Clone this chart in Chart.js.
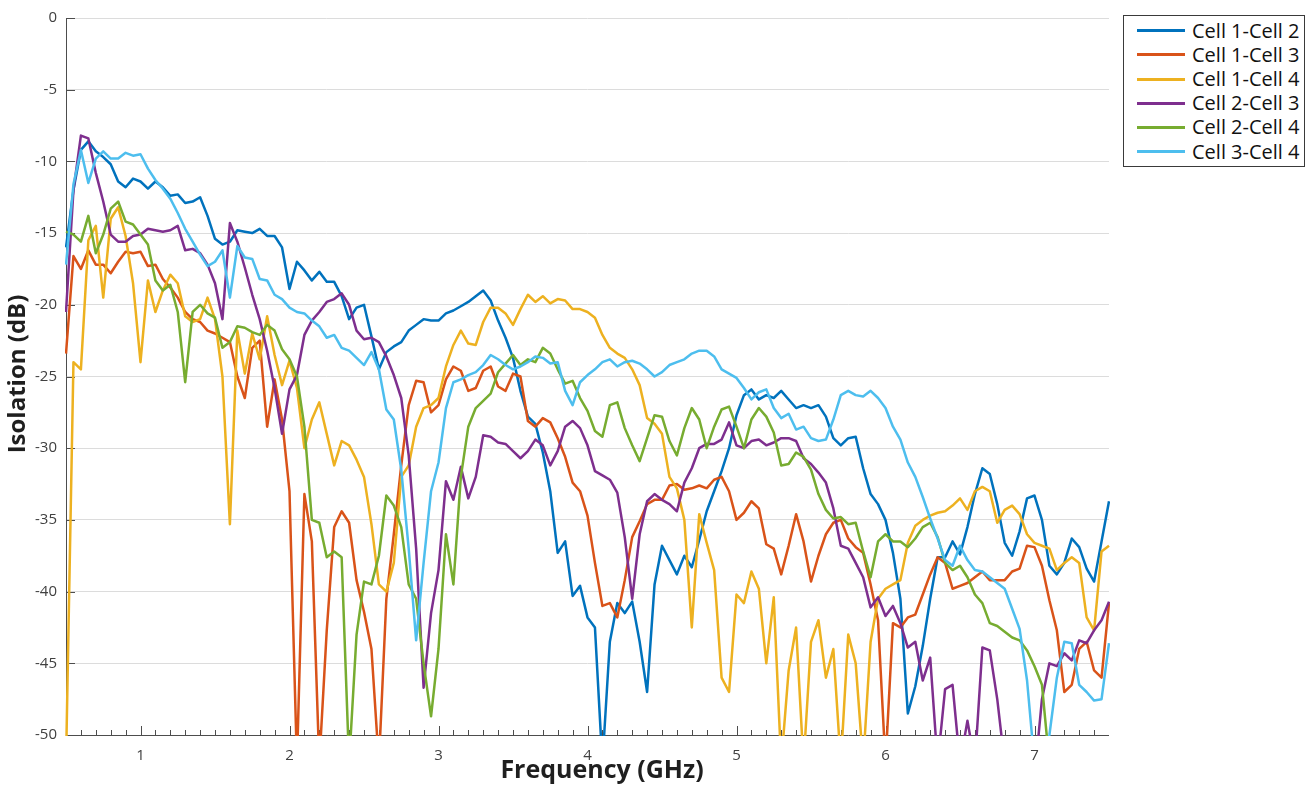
<!DOCTYPE html>
<html>
<head>
<meta charset="utf-8">
<script src="https://cdn.jsdelivr.net/npm/chart.js@4.4.0/dist/chart.umd.min.js"></script>
<style>
html,body{margin:0;padding:0;background:#fff;}
#wrap{position:relative;width:1310px;height:791px;overflow:hidden;}
#c{position:absolute;left:0;top:0;width:1310px;height:791px;}
#legend{position:absolute;left:1123px;top:15px;width:182px;height:152px;box-sizing:border-box;border:1px solid #3a3a3a;background:#fff;padding-top:2.6px;font-family:"Open Sans","Noto Sans",sans-serif;}
.row{display:flex;align-items:center;height:24.2px;}
.swatch{display:inline-block;width:48px;height:3px;margin-left:13px;margin-right:7px;}
.lab{font-size:20px;color:#111;white-space:nowrap;line-height:24px;}
</style>
</head>
<body>
<div id="wrap">
<canvas id="c" width="1310" height="791"></canvas>
<div id="legend"></div>
</div>
<script>
// ---------- data ----------
const freqGHz = [
0.5,0.55,0.6,0.65,0.7,0.75,0.8,0.85,0.9,0.95,
1,1.05,1.1,1.15,1.2,1.25,1.3,1.35,1.4,1.45,
1.5,1.55,1.6,1.65,1.7,1.75,1.8,1.85,1.9,1.95,
2,2.05,2.1,2.15,2.2,2.25,2.3,2.35,2.4,2.45,
2.5,2.55,2.6,2.65,2.7,2.75,2.8,2.85,2.9,2.95,
3,3.05,3.1,3.15,3.2,3.25,3.3,3.35,3.4,3.45,
3.5,3.55,3.6,3.65,3.7,3.75,3.8,3.85,3.9,3.95,
4,4.05,4.1,4.15,4.2,4.25,4.3,4.35,4.4,4.45,
4.5,4.55,4.6,4.65,4.7,4.75,4.8,4.85,4.9,4.95,
5,5.05,5.1,5.15,5.2,5.25,5.3,5.35,5.4,5.45,
5.5,5.55,5.6,5.65,5.7,5.75,5.8,5.85,5.9,5.95,
6,6.05,6.1,6.15,6.2,6.25,6.3,6.35,6.4,6.45,
6.5,6.55,6.6,6.65,6.7,6.75,6.8,6.85,6.9,6.95,
7,7.05,7.1,7.15,7.2,7.25,7.3,7.35,7.4,7.45,
7.5];

const cell1_cell2 = [
-16,-12,-9.2,-8.6,-9.3,-9.7,-10.2,-11.4,-11.8,-11.2,
-11.4,-11.9,-11.4,-11.8,-12.4,-12.3,-12.9,-12.8,-12.5,-13.8,
-15.4,-15.8,-15.6,-14.8,-14.9,-15,-14.7,-15.2,-15.2,-16,
-18.9,-17,-17.6,-18.3,-17.7,-18.4,-18.4,-19.4,-21,-20.2,
-20,-22.2,-24.5,-23.3,-22.9,-22.6,-21.8,-21.4,-21,-21.1,
-21.1,-20.6,-20.4,-20.1,-19.8,-19.4,-19,-19.7,-21.1,-22.3,
-23.7,-26,-27.8,-28.3,-30.3,-33,-37.3,-36.5,-40.3,-39.6,
-41.8,-42.5,-52,-43.5,-40.8,-41.5,-40.7,-43.5,-47,-39.5,
-36.8,-37.8,-38.8,-37.5,-38.3,-36.4,-34.4,-33,-31.6,-30,
-27.7,-26.3,-25.9,-26.6,-26.3,-26.5,-26,-26.6,-27.2,-27,
-27.2,-27,-27.8,-29.3,-29.8,-29.3,-29.2,-31.4,-33.2,-33.9,
-35,-37.3,-40.5,-48.5,-46.6,-43.8,-40.5,-37.6,-37.6,-36.5,
-37.4,-35.5,-33.2,-31.4,-31.8,-33.9,-36.6,-37.5,-35.8,-33.5,
-33.3,-35,-38.2,-38.8,-38,-36.3,-36.9,-38.4,-39.3,-36.5,-33.7];

const cell1_cell3 = [
-23.4,-16.6,-17.5,-16.2,-17.2,-17.2,-17.8,-17,-16.3,-16.4,
-16.3,-17.3,-17.2,-18.2,-18.8,-19.5,-20.5,-21,-21.2,-21.8,
-22,-22.3,-22.6,-25,-26.5,-23,-22.5,-28.5,-25.2,-28,
-33,-52,-33.2,-36.5,-52,-42.7,-35.5,-34.4,-35.2,-39.2,
-41.4,-44,-52,-40.5,-36,-31.2,-27,-25.3,-25.4,-27.5,
-27,-25.2,-24.3,-24.6,-26,-25.8,-24.6,-24.3,-25.7,-26,
-24.8,-25,-28.1,-28.5,-27.9,-28.2,-29.3,-30.6,-32.4,-33,
-34.7,-38,-41,-40.8,-41.8,-39.2,-36.2,-35.1,-33.9,-33.6,
-33.6,-32.6,-32.5,-32.9,-32.8,-32.6,-32.8,-32.2,-32,-33,
-35,-34.5,-33.7,-34.2,-36.7,-37,-38.8,-36.8,-34.6,-36.5,
-39.3,-37.5,-36,-35.2,-35,-36.3,-36.9,-37.3,-39.5,-42,
-52,-42.2,-42.5,-41.8,-41.6,-40.2,-38.8,-37.6,-38,-39.8,
-39.6,-39.4,-39,-38.6,-39.2,-39.2,-39.2,-38.6,-38.4,-36.8,
-36.9,-38.2,-40.6,-42.7,-47,-46.5,-44,-43.5,-45.5,-46,-40.8];

const cell1_cell4 = [
-52,-24,-24.5,-15.5,-14.5,-19.5,-14,-13.2,-15.2,-18.5,
-24,-18.3,-20.5,-19,-17.9,-18.5,-20.8,-21.2,-21,-19.5,
-21,-25,-35.3,-21.8,-24.8,-22,-23.8,-20.8,-23.5,-25.6,
-23.9,-25.8,-30,-28,-26.8,-29,-31.2,-29.5,-29.8,-30.8,
-32,-35.3,-39.5,-40,-38,-32,-31.2,-28.5,-27.2,-27,
-26.5,-24.3,-22.8,-21.8,-22.7,-22.8,-21.2,-20.2,-20.2,-20.6,
-21.4,-20.3,-19.3,-19.8,-19.4,-19.9,-19.6,-19.7,-20.3,-20.3,
-20.5,-20.9,-22.1,-23,-23.4,-23.7,-24.5,-25.6,-27.9,-28.3,
-29,-32,-32.8,-35,-42.5,-34.6,-36.6,-38.5,-46,-47,
-40.2,-40.8,-38.6,-39.8,-45,-40.4,-52,-45.5,-42.5,-52,
-43.5,-42,-46,-44,-52,-43,-45,-52,-43.5,-40.5,
-39.8,-39.5,-39.2,-36.6,-35.4,-35,-34.7,-34.5,-34.4,-34,
-33.5,-34.3,-33,-32.7,-33,-35.2,-34.3,-34,-34.6,-36,
-36.6,-36.8,-37,-38.5,-38,-37.6,-38,-41.8,-42.7,-37.2,-36.8];

const cell2_cell3 = [
-20.5,-12,-8.2,-8.4,-10.8,-12.8,-15.1,-15.6,-15.6,-15.2,
-15.1,-14.7,-14.8,-14.9,-14.8,-14.5,-16.2,-16.1,-16.4,-17.2,
-18.5,-21,-14.3,-15.6,-17.4,-19.3,-21,-23.2,-25.8,-29,
-25.9,-24.9,-22.1,-21.1,-20.5,-19.8,-19.6,-19.2,-20,-21.8,
-22.4,-22.3,-22.6,-23.6,-24.9,-26.5,-30.5,-37,-46.7,-41.5,
-38.5,-32.3,-33.6,-31.3,-33.5,-32,-29.1,-29.2,-29.6,-29.7,
-30.2,-30.7,-30.2,-29.4,-29.8,-31.2,-30.2,-28.5,-28.1,-28.6,
-29.8,-31.6,-31.9,-32.2,-33.1,-36.2,-40.5,-36,-33.7,-33.2,
-33.6,-33.9,-34.4,-32.4,-31.4,-30,-29.7,-29.7,-29.4,-28.2,
-29.8,-30,-29.5,-29.4,-29.8,-29.6,-29.3,-29.3,-29.5,-30.7,
-31.1,-31.7,-32.4,-34.2,-36.8,-37,-38,-39,-41.1,-40.4,
-41.7,-41,-42.2,-43.9,-43.5,-46.2,-44.6,-52,-46.8,-46.5,
-52,-49,-52,-43.9,-44.1,-47.5,-52,-53,-53,-53,
-53,-47.5,-45,-45.2,-44.3,-44.8,-43.4,-43.6,-42.7,-42,-40.7];

const cell2_cell4 = [
-14.9,-15.1,-15.6,-13.8,-16.4,-15.1,-13.3,-12.8,-14.2,-14.4,
-15.1,-15.8,-18.3,-19,-18.6,-20.5,-25.4,-20.5,-20,-20.6,
-20.9,-23,-22.6,-21.5,-21.6,-21.9,-22.1,-21.4,-21.8,-23.1,
-23.8,-25,-28.5,-35,-35.2,-37.6,-37.2,-37.6,-52,-43,
-39.3,-39.5,-37.5,-33.3,-34,-35.5,-39.5,-40.5,-45,-48.7,
-44,-36,-39.5,-32,-28.5,-27.2,-26.7,-26.2,-24.7,-24.1,
-23.5,-24.2,-23.8,-24,-23,-23.4,-24.5,-25.5,-25.3,-26.5,
-27.4,-28.8,-29.2,-27,-26.8,-28.6,-29.8,-30.9,-29.3,-27.7,
-27.8,-29.5,-30.5,-28.6,-27.2,-28,-30,-28.5,-27.3,-27.1,
-28.5,-30,-28,-27.2,-27.8,-28.9,-31.2,-31.1,-30.3,-30.6,
-31.5,-33.2,-34.3,-34.9,-34.8,-35.3,-35.2,-37.2,-39,-36.5,
-36,-36.5,-36.5,-36.9,-36.3,-35.5,-35.2,-36.2,-38,-38.5,
-38.2,-39,-40.2,-40.8,-42.2,-42.4,-42.8,-43.2,-43.4,-44.1,
-45.2,-46.5,-52,-53,-53,-53,-53,-53,-53,-53,-53];

const cell3_cell4 = [
-17.2,-11.6,-9.2,-11.5,-9.8,-9.3,-9.8,-9.8,-9.4,-9.6,
-9.5,-10.5,-11.3,-11.9,-12.6,-13.6,-14.7,-15.6,-16.5,-17.3,
-17,-16.2,-19.5,-15.9,-16.7,-16.8,-18.2,-18.3,-19.3,-19.6,
-20.2,-20.5,-20.6,-21.1,-21.5,-22.3,-22.1,-23,-23.2,-23.7,
-24.2,-23.3,-24.5,-27.3,-28,-31.5,-37,-43.4,-38,-33,
-31,-27.2,-25.4,-25.2,-24.9,-24.7,-24.2,-23.5,-23.8,-24.2,
-24.5,-24.3,-24,-23.6,-23.7,-24.1,-24,-26,-27,-25.4,
-24.9,-24.5,-24,-23.8,-24.3,-24,-23.9,-24.1,-24.5,-25,
-24.7,-24.2,-24,-23.8,-23.4,-23.2,-23.2,-23.6,-24.5,-24.8,
-25.1,-25.8,-26.6,-26.1,-25.9,-27.2,-27.9,-27.6,-28.7,-28.5,
-29.3,-29.5,-29.4,-28,-26.3,-26,-26.3,-26.4,-26,-26.5,
-27.2,-28.5,-29.4,-31,-32,-33.4,-34.9,-36.3,-37.8,-38.2,
-36.8,-37.8,-38.5,-38.6,-39,-39.4,-39.8,-41.2,-42.6,-46.2,
-52,-52,-50,-46,-43.5,-43.6,-46.5,-47,-47.6,-47.5,-43.6];

const seriesLabels = ['Cell 1-Cell 2','Cell 1-Cell 3','Cell 1-Cell 4','Cell 2-Cell 3','Cell 2-Cell 4','Cell 3-Cell 4'];
const seriesValues = [cell1_cell2, cell1_cell3, cell1_cell4, cell2_cell3, cell2_cell4, cell3_cell4];
const seriesColors = ['#0072BD','#D95319','#EDB120','#7E2F8E','#77AC30','#4DBEEE'];
const xTickValues = [1,2,3,4,5,6,7];
const yTickValues = [0,-5,-10,-15,-20,-25,-30,-35,-40,-45,-50];
const xTitle = 'Frequency (GHz)';
const yTitle = 'Isolation (dB)';
const FONT = '"Open Sans", "Noto Sans", sans-serif';

// ---------- legend (HTML) ----------
const leg = document.getElementById('legend');
seriesLabels.forEach((l,i)=>{
  const r = document.createElement('div'); r.className='row';
  const s = document.createElement('span'); s.className='swatch'; s.style.background=seriesColors[i];
  const t = document.createElement('span'); t.className='lab'; t.textContent=l;
  r.appendChild(s); r.appendChild(t); leg.appendChild(r);
});

// ---------- plugins ----------
const axesPlugin = {
  id:'axesPlugin',
  beforeDatasetsDraw(chart){
    const {ctx, chartArea:a, scales:{x:xa, y:ya}} = chart;
    ctx.save();
    ctx.strokeStyle='#4d4d4d'; ctx.lineWidth=1;
    ctx.beginPath();
    ctx.moveTo(a.left+0.5, a.top); ctx.lineTo(a.left+0.5, a.bottom+0.5); ctx.lineTo(a.right, a.bottom+0.5);
    ctx.stroke();
    ctx.beginPath();
    for(let k=6;k<=74;k++){
      const v=k/10; const major = (k%10===0);
      const px=Math.round(xa.getPixelForValue(v))+0.5;
      ctx.moveTo(px, a.bottom); ctx.lineTo(px, a.bottom-(major?9:5));
    }
    yTickValues.forEach(v=>{
      const py=Math.round(ya.getPixelForValue(v))+0.5;
      ctx.moveTo(a.left, py); ctx.lineTo(a.left+9, py);
    });
    ctx.stroke();
    ctx.restore();
  },
  afterDraw(chart){
    const {ctx} = chart;
    ctx.save();
    ctx.fillStyle='#1f1f1f';
    ctx.textAlign='center'; ctx.textBaseline='alphabetic';
    ctx.font='bold 25px ' + FONT;
    ctx.fillText(xTitle, 602, 778);
    ctx.translate(25, 374); ctx.rotate(-Math.PI/2);
    ctx.font='bold 24px ' + FONT;
    ctx.fillText(yTitle, 0, 0);
    ctx.restore();
  }
};

const datasets = seriesValues.map((vals,i)=>({
  label: seriesLabels[i],
  data: freqGHz.map((f,j)=>({x:f, y:vals[j]})),
  borderColor: seriesColors[i],
  backgroundColor: seriesColors[i],
  borderWidth: 2.5,
  pointRadius: 0,
  fill: false,
  tension: 0,
  borderJoinStyle: 'round',
  clip: 1,
  order: seriesValues.length - i
}));

new Chart(document.getElementById('c'), {
  type:'line',
  data:{datasets},
  plugins:[axesPlugin],
  options:{
    responsive:false, animation:false, devicePixelRatio:1,
    layout:{padding:{left:0,right:201,top:15,bottom:0}},
    plugins:{legend:{display:false}, tooltip:{enabled:false}},
    scales:{
      x:{
        type:'linear', min:0.5, max:7.5,
        afterBuildTicks:s=>{ s.ticks = xTickValues.map(v=>({value:v})); },
        afterFit:s=>{ s.height = 56; },
        grid:{display:false}, border:{display:false},
        ticks:{color:'#404040', font:{family:'"Open Sans"', size:15}, padding:4, maxRotation:0, autoSkip:false}
      },
      y:{
        type:'linear', min:-50, max:0,
        afterBuildTicks:s=>{ s.ticks = yTickValues.map(v=>({value:v})); },
        afterFit:s=>{ s.width = 66; },
        grid:{color:'#dcdcdc', lineWidth:1, drawTicks:false}, border:{display:false},
        ticks:{color:'#404040', font:{family:'"Open Sans"', size:15}, padding:9}
      }
    }
  }
});
</script>
</body>
</html>
